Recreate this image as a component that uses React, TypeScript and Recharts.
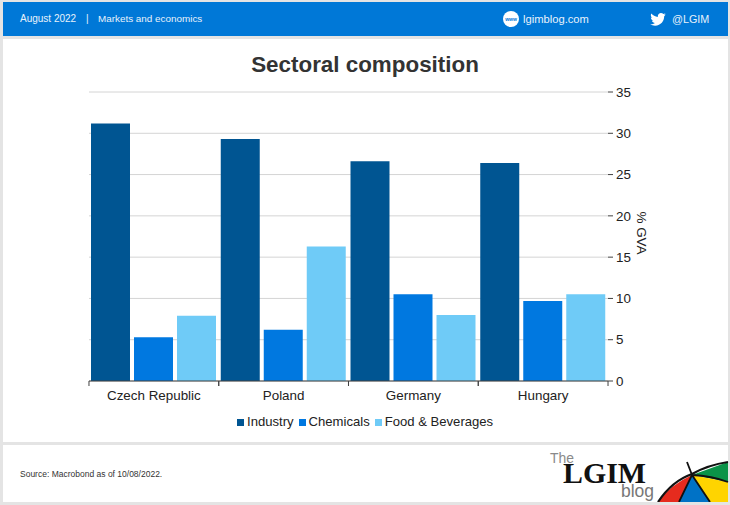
import { Bar, BarChart, CartesianGrid, Legend, XAxis, YAxis } from 'recharts';

const countries = ['Czech Republic', 'Poland', 'Germany', 'Hungary'];
const industry = [31.2, 29.3, 26.6, 26.4];
const chemicals = [5.3, 6.2, 10.5, 9.7];
const foodBeverages = [7.9, 16.3, 8.0, 10.5];
const yTicks = [0, 5, 10, 15, 20, 25, 30, 35];

const chartData = countries.map((country, i) => ({
    country,
    Industry: industry[i],
    Chemicals: chemicals[i],
    'Food & Beverages': foodBeverages[i],
}));

const FONT = '"Liberation Sans", Arial, sans-serif';
const BORDER = '#e4e4e4';
const BLUE = '#0078d7';
const HALF_BAND = 64.9;

function CategoryTick({ x, y, payload }: any) {
    return (
        <g>
            <line x1={x - HALF_BAND} x2={x - HALF_BAND} y1={381} y2={386} stroke='#404040' />
            <line x1={x + HALF_BAND} x2={x + HALF_BAND} y1={381} y2={386} stroke='#404040' />
            <text x={x} y={y + 11} textAnchor='middle' fontSize={13.4} fill='#222'>
                {payload.value}
            </text>
        </g>
    );
}

function LegendRow({ payload }: any) {
    return (
        <div style={{ display: 'flex', fontSize: 13.1, lineHeight: '20px', color: '#222', whiteSpace: 'nowrap' }}>
            {(payload || []).map((item: any) => (
                <div key={item.value} style={{ display: 'flex', alignItems: 'center', marginRight: 5 }}>
                    <span style={{ width: 7, height: 7, background: item.color, marginRight: 3 }} />
                    {item.value}
                </div>
            ))}
        </div>
    );
}

function HeaderText({ left, size, children }: { left: number; size: number; children: string }) {
    return <div style={{ position: 'absolute', left, top: 2, height: 34, lineHeight: '34px', fontSize: size, color: '#e8f2fb', whiteSpace: 'nowrap' }}>{children}</div>;
}

function Logo() {
    return (
        <svg width={182} height={57} viewBox='548 445 182 57' style={{ position: 'absolute', left: 548, top: 445 }}>
            <text x={550} y={463} fontSize={15.5} fill='#8a8a8a' fontFamily={FONT} textLength={24} lengthAdjust='spacingAndGlyphs'>The</text>
            <text x={563} y={483} fontSize={30} fontWeight={700} fill='#111' fontFamily='"Liberation Serif", serif' textLength={83} lengthAdjust='spacingAndGlyphs'>LGIM</text>
            <text x={621} y={497} fontSize={17.5} fill='#777' fontFamily={FONT}>blog</text>
            <path d='M692 475 L728 462 V482 Z' fill='#0a9348' />
            <path d='M692 475 L728 482 V502 H710 Z' fill='#ffd400' />
            <path d='M692 475 L710 502 H679 Z' fill='#0072c6' />
            <path d='M692 475 L679 502 H658 Q670 485 692 475 Z' fill='#e62b1e' />
            <path d='M658 502 Q672 481 692 474 Q708 465 728 462' fill='none' stroke='#111' strokeWidth={2.2} />
            <path d='M687 462 L692 475 L679 502 M692 475 L710 502 M692 475 Q712 476 728 482' fill='none' stroke='#111' strokeWidth={1.8} />
        </svg>
    );
}

export default function App() {
    return (
        <div style={{ position: 'fixed', left: 0, top: 0, width: 730, height: 505, background: BORDER, fontFamily: FONT, overflow: 'hidden' }}>
            <div style={{ position: 'absolute', left: 3, top: 2, width: 725, height: 34, background: BLUE }} />
            <div style={{ position: 'absolute', left: 3, top: 39, width: 725, height: 403, background: '#fff' }} />
            <div style={{ position: 'absolute', left: 3, top: 445, width: 725, height: 57, background: '#fff' }} />

            <HeaderText left={20} size={10}>August 2022</HeaderText>
            <HeaderText left={86} size={10}>|</HeaderText>
            <HeaderText left={98} size={9.9}>Markets and economics</HeaderText>
            <HeaderText left={523} size={11.2}>lgimblog.com</HeaderText>
            <HeaderText left={672} size={10.8}>@LGIM</HeaderText>
            <svg width={16} height={16} viewBox='0 0 16 16' style={{ position: 'absolute', left: 503, top: 11 }}>
                <circle cx={8} cy={8} r={8} fill='#fff' />
                <text x={8} y={9.5} textAnchor='middle' fontSize={5} fontWeight={700} fill={BLUE} fontFamily={FONT}>www</text>
            </svg>
            <svg width={16} height={13} viewBox='0 0 24 20' style={{ position: 'absolute', left: 650, top: 13 }}>
                <path
                    fill='#fff'
                    d='M24 2.4c-.9.4-1.8.7-2.8.8 1-.6 1.800-1.600 2.200-2.700-1 .6-2 1-3.100 1.200C19.300.6 18 0 16.600 0c-2.700 0-4.900 2.200-4.900 4.900 0 .4 0 .8.100 1.100C7.700 5.800 4.100 3.900 1.700.9c-.4.7-.7 1.600-.7 2.500 0 1.700.9 3.200 2.200 4.100-.8 0-1.600-.2-2.200-.6v.1c0 2.400 1.700 4.400 3.900 4.800-.4.1-.8.200-1.300.200-.3 0-.6 0-.9-.100.6 2 2.400 3.400 4.600 3.400-1.700 1.300-3.800 2.100-6.100 2.100-.4 0-.8 0-1.200-.100C2.200 18.700 4.800 19.500 7.500 19.500c9.100 0 14-7.500 14-14v-.6c1-.7 1.800-1.600 2.500-2.500z'
                />
            </svg>

            <div style={{ position: 'absolute', left: 0, width: 730, top: 50, textAlign: 'center', fontSize: 22.4, lineHeight: '30px', fontWeight: 700, color: '#333' }}>Sectoral composition</div>

            <div style={{ position: 'absolute', left: 0, top: 0 }}>
                <BarChart
                    width={730}
                    height={505}
                    data={chartData}
                    margin={{ top: 92, right: 62, bottom: 94, left: 89 }}
                    barSize={39}
                    barGap={4}
                    style={{ fontFamily: FONT }}
                >
                    <CartesianGrid vertical={false} stroke='#d4d4d4' />
                    <XAxis dataKey='country' height={30} interval={0} tickLine={false} axisLine={{ stroke: '#404040' }} tick={<CategoryTick />} />
                    <YAxis
                        orientation='right'
                        width={60}
                        domain={[0, 35]}
                        ticks={yTicks}
                        axisLine={false}
                        tickLine={{ stroke: '#404040' }}
                        tickSize={5}
                        dx={1}
                        tick={{ fontSize: 13.4, fill: '#222' }}
                        label={{ value: '% GVA', angle: 90, position: 'insideRight', offset: 26, dy: 18, fontSize: 13.4, fill: '#222' }}
                    />
                    <Legend
                        verticalAlign='middle'
                        align='center'
                        itemSorter={null}
                        content={<LegendRow />}
                        wrapperStyle={{ position: 'absolute', left: 237, top: 412, width: 290 }}
                    />
                    <Bar dataKey='Industry' fill='#005592' isAnimationActive={false} />
                    <Bar dataKey='Chemicals' fill='#0078e0' isAnimationActive={false} />
                    <Bar dataKey='Food & Beverages' fill='#6fcbf7' isAnimationActive={false} />
                </BarChart>
            </div>

            <div style={{ position: 'absolute', left: 20, top: 468, fontSize: 8.5, lineHeight: '12px', color: '#333' }}>Source: Macrobond as of 10/08/2022.</div>
            <Logo />
        </div>
    );
}
